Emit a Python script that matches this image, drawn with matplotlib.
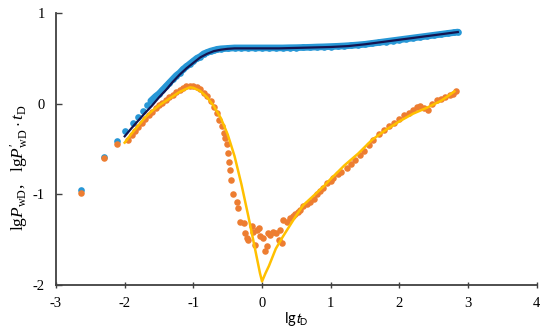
import matplotlib
matplotlib.use("Agg")
import matplotlib.pyplot as plt

plt.rcParams['font.family'] = ['Liberation Serif', 'DejaVu Serif']
plt.rcParams['mathtext.fontset'] = 'custom'
plt.rcParams['mathtext.rm'] = 'Liberation Serif'
plt.rcParams['mathtext.it'] = 'Liberation Serif:italic'
plt.rcParams['axes.unicode_minus'] = False

# measured pressure (blue dots)
p_x = [-2.64, -2.30, -2.11, -1.99, -1.88, -1.80, -1.73, -1.67, -1.62,
       -1.55, -1.50, -1.45, -1.40, -1.35, -1.30, -1.25, -1.20, -1.15, -1.10,
       -1.05, -1.00, -0.95, -0.90, -0.85, -0.80, -0.75, -0.70, -0.65, -0.60,
       -0.50, -0.40, -0.30, -0.20, -0.10, 0.00, 0.10, 0.20, 0.30, 0.40, 0.50,
       0.60, 0.70, 0.80, 0.90, 1.00, 1.10, 1.20, 1.30, 1.40, 1.50, 1.60, 1.70,
       1.80, 1.90, 2.00, 2.10, 2.20, 2.30, 2.40, 2.50, 2.60, 2.70, 2.80, 2.85]
p_y = [-0.95, -0.59, -0.41, -0.30, -0.21, -0.145, -0.08, -0.02, 0.03,
       0.08, 0.11, 0.15, 0.19, 0.23, 0.27, 0.31, 0.34, 0.38, 0.41,
       0.44, 0.47, 0.50, 0.52, 0.55, 0.565, 0.58, 0.59, 0.60, 0.605,
       0.61, 0.615, 0.615, 0.615, 0.615, 0.615, 0.615, 0.615, 0.615, 0.617, 0.618,
       0.62, 0.622, 0.625, 0.627, 0.63, 0.633, 0.637, 0.642, 0.648, 0.655, 0.665, 0.675,
       0.685, 0.695, 0.705, 0.715, 0.725, 0.735, 0.745, 0.755, 0.765, 0.775, 0.785, 0.79]

# measured derivative (orange dots)
d_x = [-2.64, -2.30, -2.11, -1.95, -1.90, -1.85, -1.80, -1.75, -1.70, -1.65,
       -1.60, -1.55, -1.50, -1.45, -1.40, -1.35, -1.30, -1.25, -1.20, -1.15,
       -1.10, -1.05, -1.00, -0.95, -0.90, -0.85, -0.80, -0.75, -0.70, -0.66,
       -0.62, -0.59, -0.56, -0.54, -0.51, -0.50, -0.48, -0.47, -0.45, -0.42,
       -0.37, -0.355, -0.32, -0.27, -0.25, -0.22, -0.20, -0.15, -0.13, -0.10,
       -0.08, -0.05, -0.03, 0.02, 0.04, 0.07, 0.09, 0.12, 0.16, 0.21,
       0.24, 0.26, 0.29, 0.31, 0.36, 0.41, 0.45, 0.48, 0.52, 0.55,
       0.60, 0.65, 0.70, 0.75, 0.80, 0.85, 0.89, 0.95, 1.00, 1.04,
       1.10, 1.15, 1.23, 1.30, 1.36, 1.42, 1.48, 1.55, 1.62, 1.70,
       1.78, 1.85, 1.92, 2.00, 2.07, 2.14, 2.20, 2.25, 2.30, 2.36,
       2.42, 2.48, 2.54, 2.60, 2.66, 2.73, 2.78, 2.82]
d_y = [-0.98, -0.60, -0.45, -0.40, -0.35, -0.30, -0.26, -0.21, -0.17, -0.13,
       -0.09, -0.05, -0.02, 0.01, 0.04, 0.07, 0.10, 0.13, 0.15, 0.17,
       0.19, 0.20, 0.195, 0.18, 0.16, 0.12, 0.08, 0.03, -0.04, -0.10,
       -0.18, -0.25, -0.32, -0.38, -0.45, -0.54, -0.64, -0.73, -0.84, -1.00,
       -1.08, -1.15, -1.30, -1.32, -1.43, -1.48, -1.50, -1.35, -1.41, -1.56,
       -1.39, -1.37, -1.46, -1.48, -1.63, -1.57, -1.43, -1.45, -1.41, -1.43,
       -1.50, -1.39, -1.54, -1.28, -1.30, -1.26, -1.24, -1.22, -1.19, -1.17,
       -1.13, -1.11, -1.08, -1.05, -1.00, -0.96, -0.93, -0.88, -0.85, -0.82,
       -0.78, -0.75, -0.71, -0.66, -0.62, -0.57, -0.52, -0.46, -0.40, -0.34,
       -0.29, -0.25, -0.21, -0.17, -0.13, -0.10, -0.07, -0.04, -0.03, -0.05,
       -0.07, 0.00, 0.04, 0.05, 0.07, 0.10, 0.11, 0.135]

# fitted pressure (navy line)
fp_x = [-2.0, -1.9, -1.8, -1.7, -1.6, -1.5, -1.4, -1.3, -1.2, -1.1, -1.0,
        -0.9, -0.8, -0.7, -0.6, -0.5, -0.4, -0.2, 0.0, 0.25, 0.5, 0.75,
        1.0, 1.25, 1.5, 1.75, 2.0, 2.25, 2.5, 2.75, 2.85]
fp_y = [-0.36, -0.27, -0.185, -0.10, -0.02, 0.07, 0.15, 0.24, 0.32, 0.39, 0.45,
        0.51, 0.55, 0.58, 0.595, 0.605, 0.61, 0.61, 0.61, 0.61, 0.615, 0.62,
        0.625, 0.635, 0.655, 0.68, 0.705, 0.73, 0.755, 0.78, 0.79]

# fitted derivative (yellow line)
fd_x = [-2.0, -1.9, -1.8, -1.7, -1.6, -1.5, -1.4, -1.3, -1.2, -1.1, -1.05,
        -1.0, -0.9, -0.8, -0.7, -0.6, -0.5, -0.4, -0.3, -0.2, -0.1, -0.03,
        0.0, 0.05, 0.1, 0.2, 0.3, 0.4, 0.5, 0.6, 0.7, 0.8, 0.9, 1.0,
        1.2, 1.4, 1.6, 1.8, 2.0, 2.2, 2.4, 2.6, 2.7, 2.8]
fd_y = [-0.43, -0.33, -0.24, -0.15, -0.08, -0.02, 0.03, 0.08, 0.13, 0.165, 0.18,
        0.175, 0.14, 0.07, -0.03, -0.16, -0.34, -0.58, -0.89, -1.24, -1.61, -1.87,
        -1.96, -1.87, -1.79, -1.60, -1.47, -1.35, -1.23, -1.12, -1.05, -0.98, -0.91, -0.83,
        -0.68, -0.55, -0.40, -0.29, -0.195, -0.11, -0.045, 0.03, 0.08, 0.135]

fig = plt.figure(figsize=(5.5, 3.29), dpi=100)
ax = fig.add_axes([0.1018, 0.1337, 0.8742, 0.8268])

ax.plot(p_x[8:], p_y[8:], color='#2797d6', lw=4.8, solid_capstyle='round', zorder=2)
ax.plot(p_x, p_y, 'o', color='#2797d6', ms=4.8, mec='none', zorder=2)
ax.plot(d_x, d_y, 'o', color='#ed7d31', ms=4.7, mec='none', zorder=3)
ax.plot(fp_x, fp_y, color='#141450', lw=1.6, zorder=4)
ax.plot(fd_x, fd_y, color='#ffc000', lw=1.8, zorder=5)

ax.set_xlim(-3, 4)
ax.set_ylim(-2, 1)
ax.set_xticks(range(-3, 5))
ax.set_yticks(range(-2, 2))
for s in ['top', 'right']:
    ax.spines[s].set_visible(False)
for s in ['left', 'bottom']:
    ax.spines[s].set_color('#404040')
    ax.spines[s].set_linewidth(1.3)
ax.tick_params(axis='x', direction='inout', length=5, width=1, color='#404040',
               labelsize=10.5, pad=6)
ax.tick_params(axis='y', direction='in', length=4, width=1, color='#404040',
               labelsize=10.5, pad=8)

ax.set_xlabel(r'lg$t_{\rm D}$', fontsize=10.5, family=['Lato', 'DejaVu Sans'],
              math_fontfamily='stixsans', labelpad=0)
ax.set_ylabel(r'lg$P_{\rm wD}$,   lg$P^{\prime}_{\rm wD}\cdot t_{\rm D}$', fontsize=12.5)
ax.yaxis.set_label_coords(-0.052, 0.43)

fig.savefig('out.png', dpi=100)
